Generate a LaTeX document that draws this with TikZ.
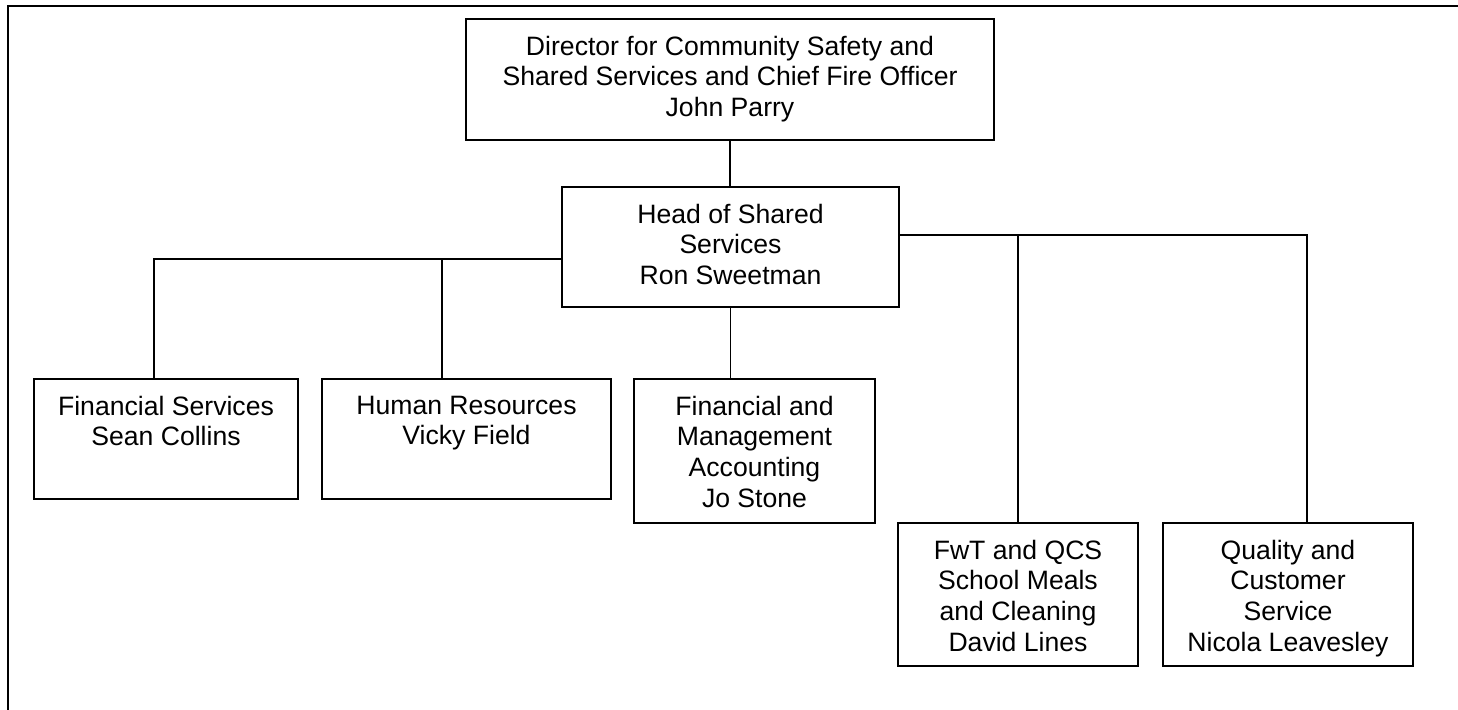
\documentclass[tikz,border=0pt]{standalone}
\usepackage{fontspec}
\setmainfont{Liberation Sans}
\usetikzlibrary{positioning}

\tikzset{
  unit/.style={draw, line width=1.1pt, inner sep=0pt},
  unittext/.style={align=center, inner sep=0pt, anchor=north,
    font=\fontsize{13.3}{15.35}\selectfont},
  link/.style={line width=0.8pt},
}

\begin{document}
\begin{tikzpicture}[x=0.5pt,y=-0.5pt]
  \useasboundingbox (0,0) rectangle (1458,710);
  % outer frame
  \draw[line width=1pt] (1458,6) -| (8,710);

  % boxes
  \node[unit, minimum width=264pt, minimum height=60.5pt] (dir) at (730,79.5) {};
  \node[unit, minimum width=168.5pt, minimum height=60pt] (head) at (730.5,247) {};
  \node[unit, minimum width=132pt, minimum height=60pt] (fs) at (166,439) {};
  \node[unit, minimum width=144.5pt, minimum height=60pt] (hr) at (466.5,439) {};
  \node[unit, minimum width=120.5pt, minimum height=72pt] (fma) at (754.5,451) {};
  \node[unit, minimum width=120pt, minimum height=71.5pt] (fwt) at (1018,594.5) {};
  \node[unit, minimum width=125pt, minimum height=71.5pt] (qcs) at (1288,594.5) {};

  % texts
  \node[unittext, below=8.75pt of dir.north] (dir-t)
    {Director for Community Safety and\\Shared Services and Chief Fire Officer\\John Parry};
  \node[unittext, below=8.75pt of head.north] (head-t)
    {Head of Shared\\Services\\Ron Sweetman};
  \node[unittext, below=8.75pt of fs.north] (fs-t)
    {Financial Services\\Sean Collins};
  \node[unittext, below=8.75pt of hr.north] (hr-t)
    {Human Resources\\Vicky Field};
  \node[unittext, below=8.75pt of fma.north] (fma-t)
    {Financial and\\Management\\Accounting\\Jo Stone};
  \node[unittext, below=8.75pt of fwt.north] (fwt-t)
    {FwT and QCS\\School Meals\\and Cleaning\\David Lines};
  \node[unittext, below=8.75pt of qcs.north] (qcs-t)
    {Quality and\\Customer\\Service\\Nicola Leavesley};

  % connectors
  \draw[link] (dir.south) -- (dir.south |- head.north);
  \draw[link] (head.south) -- (head.south |- fma.north);
  \draw[link] ([yshift=-6pt]head.west) -| ([xshift=-6pt]fs.north);
  \draw[link] ([xshift=-12.25pt]hr.north) |- ([yshift=-6pt]head.west);
  \draw[link] ([yshift=6pt]head.east) -| ([xshift=9.5pt]qcs.north);
  \draw[link] (fwt.north) |- ([yshift=6pt]head.east);
\end{tikzpicture}
\end{document}
